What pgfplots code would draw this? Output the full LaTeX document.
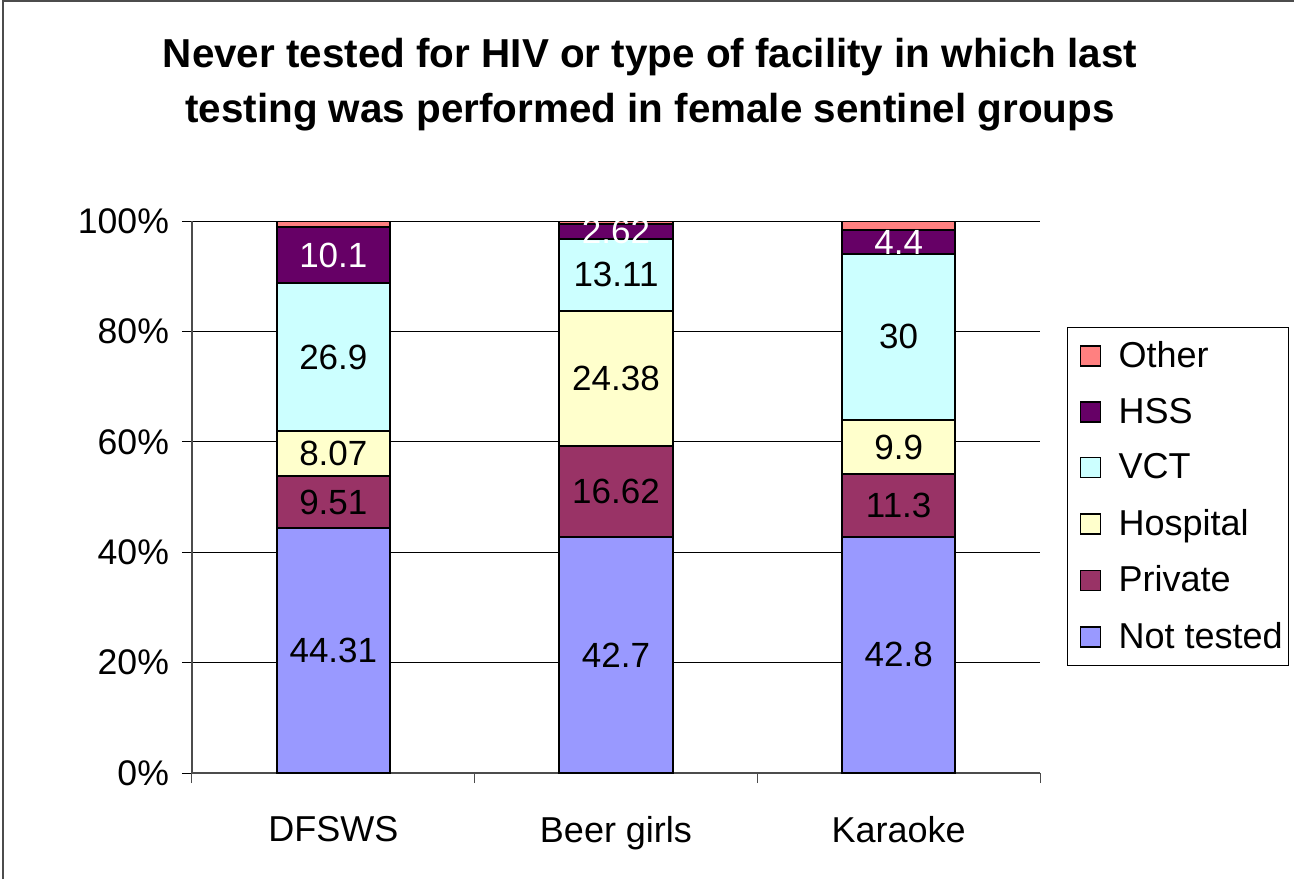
\documentclass[border=0pt]{standalone}
\usepackage{pgfplots}
\pgfplotsset{compat=1.18}
\usepackage{fontspec}
\setmainfont{Liberation Sans}

\definecolor{cnot}{HTML}{9999FF}
\definecolor{cpriv}{HTML}{993366}
\definecolor{chosp}{HTML}{FFFFCC}
\definecolor{cvct}{HTML}{CCFFFF}
\definecolor{chss}{HTML}{660066}
\definecolor{cother}{HTML}{FF8080}

\pgfplotsset{
  lab/.style={nodes near coords, point meta=explicit symbolic},
}

\begin{document}
\begin{tikzpicture}
\useasboundingbox (-96pt,-53pt) rectangle (551pt,386.5pt);
\draw[gray!60!black, line width=1pt] (-94.5pt,-53pt) -- (-94.5pt,386pt) -- (551pt,386pt);
\node[font=\fontsize{20.2}{27.5}\selectfont\bfseries, align=center] at (229pt,344pt)
  {Never tested for HIV or type of facility in which last\\testing was performed in female sentinel groups};
\begin{axis}[
    at={(0pt,0pt)}, anchor=south west,
    scale only axis, width=424pt, height=276pt,
    ybar stacked, bar width=0.4,
    xmin=-0.5, xmax=2.5, ymin=0, ymax=100,
    axis x line*=bottom, axis y line*=left,
    axis line style={-, black!70, line width=0.8pt},
    xtick={0,1,2},
    xticklabels={DFSWS, Beer girls, Karaoke},
    x tick label style={font=\fontsize{18}{21}\selectfont, yshift=-13pt},
    major x tick style={draw=none},
    extra x ticks={-0.5,0.5,1.5,2.5},
    extra x tick labels={},
    extra x tick style={major tick length=5pt, tick align=outside, major x tick style={draw=black!70}},
    ytick={0,20,40,60,80,100},
    yticklabel={\pgfmathprintnumber{\tick}\%},
    y tick label style={font=\fontsize{17.8}{21}\selectfont, xshift=-3pt},
    tick align=outside, major tick length=5pt,
    tick style={black, line width=0.5pt},
    ymajorgrids, grid style={black, line width=0.5pt},
    /pgf/number format/assume math mode=true,
    nodes near coords align=center,
    every node near coord/.append style={font=\fontsize{17.5}{21}\selectfont, anchor=center},
    legend style={at={(1.032,0.808)}, anchor=north west, draw=black,
      font=\fontsize{18}{21}\selectfont, row sep=9.75pt, inner xsep=1pt, inner ysep=5pt,
      cells={anchor=west}},
    legend image code/.code={\draw[#1, draw=black, line width=0.8pt] (5pt,-5pt) rectangle (15pt,5pt);
      \path (0pt,0pt) (21.5pt,0pt);},
    reverse legend,
  ]
  \addplot[fill=cnot, draw=black, line width=1pt, lab] coordinates {(0,44.31)[44.31] (1,42.7)[42.7] (2,42.8)[42.8]};
  \addplot[fill=cpriv, draw=black, line width=1pt, lab] coordinates {(0,9.51)[9.51] (1,16.62)[16.62] (2,11.3)[11.3]};
  \addplot[fill=chosp, draw=black, line width=1pt, lab] coordinates {(0,8.07)[8.07] (1,24.38)[24.38] (2,9.9)[9.9]};
  \addplot[fill=cvct, draw=black, line width=1pt, lab] coordinates {(0,26.9)[26.9] (1,13.11)[13.11] (2,30)[30]};
  \addplot[fill=chss, draw=black, line width=1pt, lab, every node near coord/.append style={text=white}] coordinates {(0,10.1)[10.1] (1,2.62)[2.62] (2,4.4)[4.4]};
  \addplot[fill=cother, draw=black, line width=1pt] coordinates {(0,1.11) (1,0.57) (2,1.6)};
  \legend{Not tested, Private, Hospital, VCT, HSS, Other}
\end{axis}
\end{tikzpicture}
\end{document}
